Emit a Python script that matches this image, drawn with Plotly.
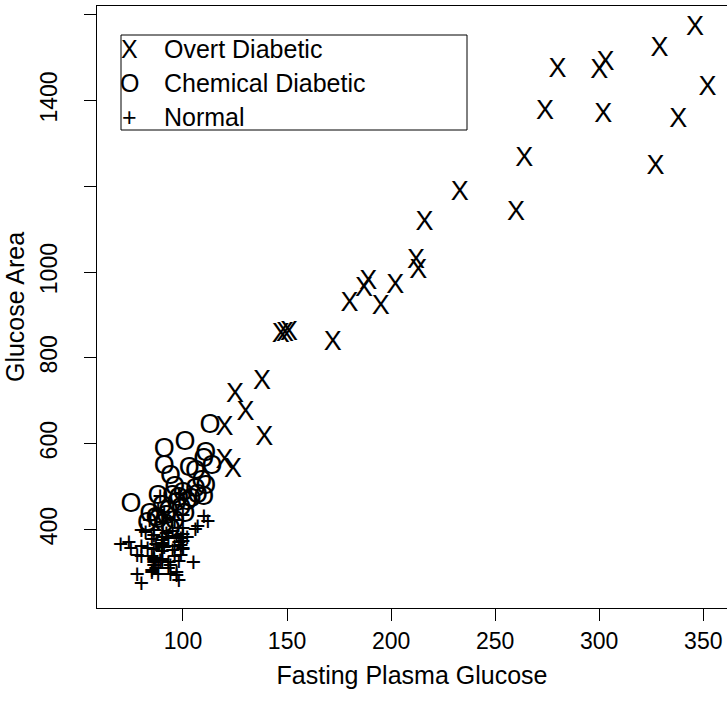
import plotly.graph_objects as go

# ---- data (fasting plasma glucose, glucose area) ----
overt_fpg = [346, 329, 280, 303, 300, 352, 274, 302, 338, 264, 327, 233, 216, 212, 213,
             202, 189, 187, 180, 195, 172, 147, 149, 151, 138, 125, 130, 120, 139, 120, 124, 260]
overt_ga = [1568, 1520, 1470, 1487, 1468, 1428, 1373, 1365, 1354, 1264, 1245, 1183, 1113, 1025, 1001,
            967, 977, 961, 925, 918, 834, 852, 854, 858, 743, 714, 670, 635, 613, 559, 538, 1137]

chem_fpg = [75, 113, 101, 91, 111, 110, 91, 114, 103, 106, 94, 109, 111, 106, 100, 95, 88, 110,
            90, 99, 84, 87, 92, 101, 96, 83, 91, 98, 104, 97, 102, 93, 107, 96, 88, 94]
chem_ga = [456, 640, 602, 584, 575, 561, 546, 545, 541, 534, 522, 510, 499, 491, 482, 475, 475, 472,
           452, 448, 433, 425, 429, 433, 417, 413, 409, 470, 468, 458, 462, 440, 478, 496, 420, 398]

norm_fpg = [80, 97, 105, 90, 90, 86, 100, 85, 97, 97, 91, 87, 78, 90, 86, 80, 90, 99, 85, 90,
            90, 88, 95, 90, 92, 74, 98, 100, 86, 98, 70, 99, 75, 90, 85, 99, 100, 78, 106, 98,
            102, 90, 94, 80, 93, 86, 85, 96, 88, 87, 94, 93, 86, 86, 96, 86, 89, 83, 98, 100,
            110, 88, 100, 80, 89, 91, 96, 95, 82, 84, 90, 100, 86, 93, 107, 112]
norm_ga = [356, 289, 319, 356, 323, 381, 350, 301, 379, 296, 353, 306, 290, 371, 312, 393, 364, 359, 296, 345,
           378, 304, 347, 327, 386, 365, 365, 352, 325, 321, 360, 336, 352, 353, 373, 376, 367, 335, 396, 277,
           378, 360, 291, 269, 318, 328, 334, 356, 291, 360, 313, 306, 319, 349, 332, 323, 323, 351, 478, 398,
           426, 439, 429, 333, 472, 436, 418, 391, 390, 416, 413, 385, 393, 376, 403, 414]

groups = ["Overt Diabetic", "Chemical Diabetic", "Normal"]
symbols = ["X", "O", "+"]
xticks = [100, 150, 200, 250, 300, 350]
yticks = [400, 600, 800, 1000, 1200, 1400, 1600]
yticklabels = ["400", "600", "800", "1000", "", "1400", ""]

FONT = "Liberation Sans, Arial, Helvetica, sans-serif"
W, H = 727, 704
L, T, B = 97, 6, 96
TICK_FS = 23
TITLE_FS = 25
LEG_FS = 25

fig = go.Figure()
for xs, ys, sym, name in [(overt_fpg, overt_ga, "X", groups[0]),
                          (chem_fpg, chem_ga, "O", groups[1]),
                          (norm_fpg, norm_ga, "+", groups[2])]:
    fig.add_trace(go.Scatter(x=xs, y=ys, mode="text", text=[sym] * len(xs),
                             textposition="middle center",
                             textfont=dict(family=FONT, size=27, color="black"),
                             name=name, showlegend=False, hoverinfo="x+y"))

def px2paper_x(px):
    return (px - L) / (W - L)

def px2paper_y(py):
    return (H - B - py) / (H - B - T)

# legend box
fig.add_shape(type="rect", xref="paper", yref="paper",
              x0=px2paper_x(121), x1=px2paper_x(467), y0=px2paper_y(130), y1=px2paper_y(35),
              line=dict(color="black", width=1), fillcolor="white", layer="above")
for i, (sym, name) in enumerate(zip(symbols, groups)):
    yy = px2paper_y(49 + i * 34)
    fig.add_annotation(x=px2paper_x(129), y=yy, xref="paper", yref="paper", text=sym,
                       showarrow=False, xanchor="center", yanchor="middle",
                       font=dict(family=FONT, size=LEG_FS, color="black"))
    fig.add_annotation(x=px2paper_x(162), y=yy, xref="paper", yref="paper", text=name,
                       showarrow=False, xanchor="left", yanchor="middle",
                       font=dict(family=FONT, size=LEG_FS, color="black"))

fig.update_layout(
    width=W, height=H, margin=dict(l=L, r=0, t=T, b=B),
    paper_bgcolor="white", plot_bgcolor="white",
    font=dict(family=FONT, size=TICK_FS, color="black"),
    xaxis=dict(range=[58.68, 361.4], tickvals=xticks, ticks="outside", ticklen=12,
               tickcolor="black", showline=True, linecolor="black", linewidth=1, mirror=True,
               showgrid=False, zeroline=False, tickfont=dict(size=TICK_FS),
               title=dict(text="Fasting Plasma Glucose", font=dict(size=TITLE_FS), standoff=13)),
    yaxis=dict(range=[217, 1620], tickvals=yticks, ticktext=yticklabels, ticks="outside", ticklen=12,
               tickcolor="black", showline=True, linecolor="black", linewidth=1,
               showgrid=False, zeroline=False, tickangle=-90, tickfont=dict(size=TICK_FS),
               ticklabelstandoff=18,
               title=dict(text="Glucose Area", font=dict(size=TITLE_FS), standoff=4)),
)

fig.write_html("out.html", config={"displayModeBar": False},
               post_script="document.body.style.margin='0px';")
